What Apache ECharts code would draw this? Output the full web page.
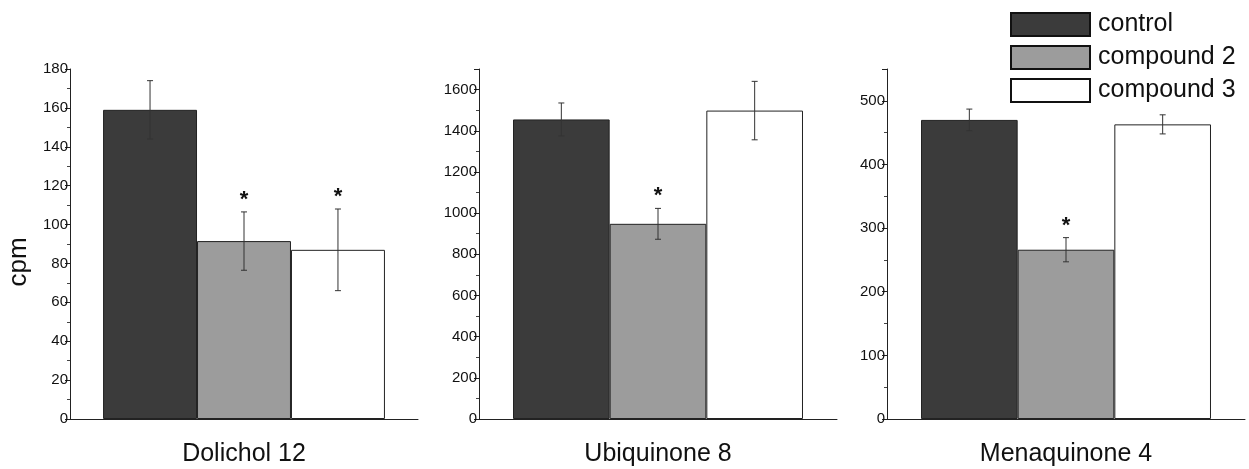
<!DOCTYPE html>
<html>
<head>
<meta charset="utf-8">
<script src="https://cdn.jsdelivr.net/npm/echarts@6/dist/echarts.min.js"></script>
<style>
  html, body { margin: 0; padding: 0; background: #fff; }
  #chart { width: 1249px; height: 469px; }
</style>
</head>
<body>
<div id="chart"></div>
<script>
const groups = ['control', 'compound 2', 'compound 3'];
const panels = ['Dolichol 12', 'Ubiquinone 8', 'Menaquinone 4'];

// mean cpm per panel, order: control, compound 2, compound 3
const dolicholMeans = [159, 91.5, 87];
const ubiquinoneMeans = [1455, 948, 1498];
const menaquinoneMeans = [470, 266, 463];

const dolicholErrors = [15, 15, 21];
const ubiquinoneErrors = [80, 75, 142];
const menaquinoneErrors = [17, 19, 15];

// significance asterisks (1 = marked)
const dolicholStars = [0, 1, 1];
const ubiquinoneStars = [0, 1, 0];
const menaquinoneStars = [0, 1, 0];

const yMax = [180, 1700, 550];
const yInterval = [20, 200, 100];

const means = [dolicholMeans, ubiquinoneMeans, menaquinoneMeans];
const errors = [dolicholErrors, ubiquinoneErrors, menaquinoneErrors];
const stars = [dolicholStars, ubiquinoneStars, menaquinoneStars];

const colors = ['#3b3b3b', '#9c9c9c', '#ffffff'];
const font = 'Liberation Sans, Arial, sans-serif';
const BAR_FRAC = 0.27;

const chart = echarts.init(document.getElementById('chart'), null, { renderer: 'canvas' });

const gridLefts = [70, 479, 887];
const gridWidths = [348, 358, 358];

const grid = gridLefts.map((left, i) => ({
  left, top: 69, width: gridWidths[i], height: 350
}));

const xAxis = panels.map((p, i) => ({
  type: 'category',
  gridIndex: i,
  data: [p],
  axisLine: { lineStyle: { color: '#222', width: 1 } },
  axisTick: { alignWithLabel: true, length: 8, lineStyle: { color: '#222' } },
  axisLabel: { fontSize: 25, color: '#111', fontFamily: font, margin: 23 }
}));

const yAxis = panels.map((p, i) => ({
  type: 'value',
  gridIndex: i,
  min: 0,
  max: yMax[i],
  interval: yInterval[i],
  name: i === 0 ? 'cpm' : '',
  nameLocation: 'middle',
  nameGap: 38,
  nameTextStyle: { fontSize: 26, color: '#111', fontFamily: font, padding: [0, 36, 0, 0] },
  axisLine: { show: true, lineStyle: { color: '#222', width: 1 } },
  axisTick: { show: true, length: 5, lineStyle: { color: '#222' } },
  minorTick: { show: true, splitNumber: 2, length: 3, lineStyle: { color: '#444' } },
  splitLine: { show: false },
  axisLabel: {
    fontSize: 15, color: '#111', margin: 2, showMaxLabel: i === 0,
    fontFamily: font,
    formatter: v => String(v)
  }
}));

const series = [];
panels.forEach((p, i) => {
  groups.forEach((g, j) => {
    series.push({
      name: g,
      type: 'bar',
      xAxisIndex: i,
      yAxisIndex: i,
      barWidth: BAR_FRAC * 100 + '%',
      barGap: '0%',
      data: [means[i][j]],
      itemStyle: { color: colors[j], borderColor: '#222', borderWidth: 1 },
      emphasis: { disabled: true }
    });
  });
  series.push({
    type: 'custom',
    xAxisIndex: i,
    yAxisIndex: i,
    z: 5,
    silent: true,
    data: groups.map((g, j) => [0, j, means[i][j], errors[i][j], stars[i][j]]),
    renderItem(params, api) {
      const j = api.value(1);
      const m = api.value(2);
      const e = api.value(3);
      const bw = api.size([1, 0])[0] * BAR_FRAC;
      const x = api.coord([api.value(0), m])[0] + (j - 1) * bw;
      const yTop = api.coord([0, m + e])[1];
      const yBot = api.coord([0, m - e])[1];
      const st = { stroke: '#333', lineWidth: 1 };
      const children = [
        { type: 'line', shape: { x1: x, y1: yTop, x2: x, y2: yBot }, style: st },
        { type: 'line', shape: { x1: x - 3, y1: yTop, x2: x + 3, y2: yTop }, style: st },
        { type: 'line', shape: { x1: x - 3, y1: yBot, x2: x + 3, y2: yBot }, style: st }
      ];
      if (api.value(4)) {
        children.push({
          type: 'text',
          style: {
            text: '*', x: x, y: yTop - 12,
            fill: '#111', font: 'bold 22px ' + font,
            textAlign: 'center', textVerticalAlign: 'middle'
          }
        });
      }
      return { type: 'group', children };
    }
  });
});

chart.setOption({
  animation: false,
  backgroundColor: '#fff',
  legend: {
    data: groups,
    orient: 'vertical',
    left: 1010,
    top: 12,
    padding: 0,
    itemWidth: 79,
    itemHeight: 23,
    itemGap: 8,
    icon: 'rect',
    selectedMode: false,
    itemStyle: { borderColor: '#111', borderWidth: 2 },
    textStyle: { fontSize: 25, color: '#111', fontFamily: font, padding: [0, 0, 0, 3] }
  },
  grid,
  xAxis,
  yAxis,
  series
});
</script>
</body>
</html>
